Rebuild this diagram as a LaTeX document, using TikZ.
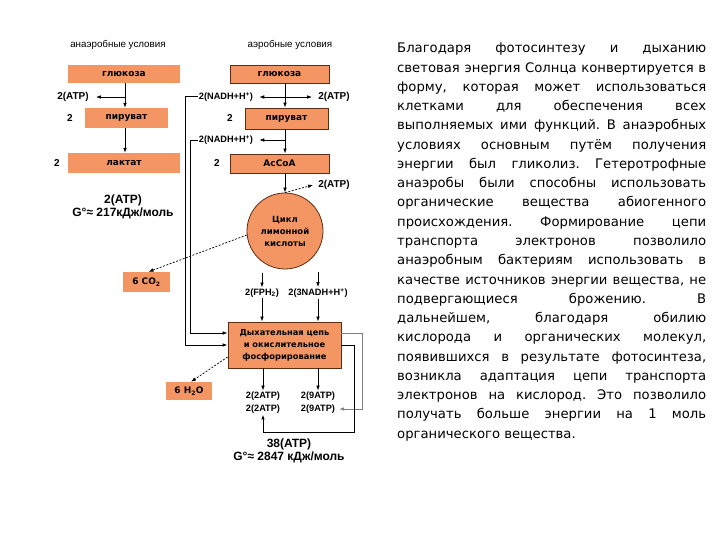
\documentclass[tikz,border=0pt]{standalone}
\usepackage{fontspec}
\setmainfont{Liberation Sans}
\newfontfamily\paraf{DejaVu Sans}
\newfontfamily\boxf{DejaVu Sans}
\usetikzlibrary{arrows.meta}
\definecolor{boxor}{RGB}{243,150,100}
\definecolor{boxbd}{RGB}{95,45,20}
\begin{document}
\frenchspacing
\begin{tikzpicture}[x=1pt,y=-1pt,
  obox/.style={fill=boxor, inner sep=0pt, font=\boxf\bfseries\fontsize{9}{10}\selectfont},
  obd/.style={obox, draw=boxbd, line width=0.8pt},
  lbl/.style={font=\bfseries\fontsize{9.2}{10}\selectfont, inner sep=1pt},
  lblb/.style={font=\bfseries\fontsize{10}{11}\selectfont, inner sep=1pt},
  hdr/.style={font=\fontsize{9.8}{10}\selectfont, inner sep=0pt},
  big/.style={font=\bfseries\fontsize{12}{13}\selectfont, inner sep=0pt},
  arr/.style={-{Latex[length=5pt,width=3.6pt]}, line width=0.7pt},
  dsh/.style={arr, dash pattern=on 2pt off 1.5pt},
  ptxt/.style={anchor=base west, inner sep=0pt, font=\paraf\fontsize{13.2}{15}\selectfont}]
\fill[white] (0,0) rectangle (720,540);
\useasboundingbox (0,0) rectangle (720,540);

% headers
\node[hdr] (hdL) at (118,45) {анаэробные условия};
\node[hdr] (hdR) at (290,45) {аэробные условия};

% anaerobic column
\coordinate (colL) at (125,0);
\node[obox, minimum width=112pt, minimum height=18pt] (gluL) at (124,74) {глюкоза};
\node[obox, minimum width=83pt, minimum height=20pt] (pyrL) at (126.5,118) {пируват};
\node[obox, minimum width=112pt, minimum height=20pt] (lacL) at (124,163) {лактат};
\draw[arr] (gluL.south -| colL) -- (pyrL.north -| colL);
\draw[arr] (pyrL.south -| colL) -- (lacL.north -| colL);
\node[lblb] (atpL) at (73,97) {2(ATP)};
\draw[arr] (colL |- atpL) -- ([xshift=6pt]atpL.east);
\node[lblb] (twoL1) at (70,118) {2};
\node[lblb] (twoL2) at (57,163) {2};
\node[big] (sumL1) at (123,200) {2(ATP)};
\node[big] (sumL2) at (123,213) {G°≈ 217кДж/моль};

% aerobic column
\coordinate (colR) at (285,0);
\node[obd, minimum width=99pt, minimum height=18pt] (gluR) at (279.5,74) {глюкоза};
\node[obd, minimum width=83pt, minimum height=21pt] (pyrR) at (286.5,118.5) {пируват};
\node[obd, minimum width=99pt, minimum height=19pt] (acoa) at (279.5,163.5) {AcCoA};
\draw[arr] (gluR.south -| colR) -- (pyrR.north -| colR);
\draw[arr] (pyrR.south -| colR) -- (acoa.north -| colR);
\node[lbl] (nadh1) at (226,97) {2(NADH+H\textsuperscript{+})};
\node[lblb] (atpR1) at (334,97) {2(ATP)};
\draw[arr] (colR |- nadh1) -- ([xshift=5pt]nadh1.east);
\draw[arr] (colR |- atpR1) -- ([xshift=-5pt]atpR1.west);
\node[lblb] (twoR1) at (230,118) {2};
\node[lbl] (nadh2) at (226,140) {2(NADH+H\textsuperscript{+})};
\draw[arr] (colR |- nadh2) -- ([xshift=5pt]nadh2.east);
\node[lblb] (twoR2) at (217,163) {2};

% citric acid cycle
\node[obd, circle, minimum size=76pt, align=center, font=\boxf\bfseries\fontsize{8.5}{12}\selectfont] (cyc) at (285,231) {Цикл\\лимонной\\кислоты};
\draw[arr] (acoa.south -| colR) -- (cyc.north);
\node[lblb] (atpR2) at (334,185) {2(ATP)};
\draw[dsh] (cyc.north) -- ([xshift=-4pt]atpR2.west);
\node[obox, minimum width=47pt, minimum height=20pt] (co2) at (146.5,282) {6 CO\textsubscript{2}};
\draw[dsh] (cyc.186) -- ([xshift=2pt]co2.north);

\node[lbl] (fph) at (262,293) {2(FPH\textsubscript{2})};
\node[lbl] (nadh3) at (318,293) {2(3NADH+H\textsuperscript{+})};
\draw[arr] ([yshift=15pt]fph.north) -- (fph.north);
\draw[arr] ([yshift=15pt]nadh3.north) -- (nadh3.north);

% respiratory chain
\node[obd, minimum width=113pt, minimum height=46pt, align=center, font=\boxf\bfseries\fontsize{8.3}{12}\selectfont] (resp) at (284.5,345) {Дыхательная цепь\\и окислительное\\фосфорирование};
\draw[arr] (fph.south) -- (fph.south |- resp.north);
\draw[arr] (nadh3.south) -- (nadh3.south |- resp.north);

\coordinate (oB) at (185,345);
\coordinate (iB) at (190,333);
\draw[arr, line width=1pt] (nadh1.west) -| (oB) -- (resp.west |- oB);
\draw[arr] (nadh2.west) -| (iB) -- (resp.west |- iB);

\node[lbl] (a1) at (263,396) {2(2ATP)};
\node[lbl] (a2) at (263,409) {2(2ATP)};
\node[lbl] (b1) at (318,396) {2(9ATP)};
\node[lbl] (b2) at (318,409) {2(9ATP)};
\draw[arr] (resp.south -| a1) -- (a1.north);
\draw[arr] (resp.south -| b1) -- (b1.north);

\node[obox, minimum width=46pt, minimum height=18pt] (h2o) at (189,391) {6 H\textsubscript{2}O};
\draw[dsh] ([yshift=-12pt]resp.west) -- ([xshift=2pt]h2o.north);

\coordinate (tR) at (362,333);
\coordinate (tR2) at (354,432);
\draw[arr, gray, line width=0.6pt] (resp.east |- tR) -- (tR) |- ([xshift=3pt]b2.east);
\draw[arr, line width=1pt] (resp.east) -| (tR2) -| (a2.south);

\node[big] (tot1) at (289,444) {38(ATP)};
\node[big] (tot2) at (289,457) {G°≈ 2847 кДж/моль};

% paragraph
\foreach \t [count=\i] in {
 {Благодаря фотосинтезу и дыханию},
 {световая энергия Солнца конвертируется в},
 {форму, которая может использоваться},
 {клетками для обеспечения всех},
 {выполняемых ими функций. В анаэробных},
 {условиях основным путём получения},
 {энергии был гликолиз. Гетеротрофные},
 {анаэробы были способны использовать},
 {органические вещества абиогенного},
 {происхождения. Формирование цепи},
 {транспорта электронов позволило},
 {анаэробным бактериям использовать в},
 {качестве источников энергии вещества, не},
 {подвергающиеся брожению. В},
 {дальнейшем, благодаря обилию},
 {кислорода и органических молекул,},
 {появившихся в результате фотосинтеза,},
 {возникла адаптация цепи транспорта},
 {электронов на кислород. Это позволило},
 {получать больше энергии на 1 моль}}
 { \node[ptxt] (p\i) at (397,{53+19.25*(\i-1)}) {\makebox[309pt][s]{\t}}; }
\node[ptxt] (p21) at (397,{53+19.25*20}) {органического вещества.};
\end{tikzpicture}
\end{document}
